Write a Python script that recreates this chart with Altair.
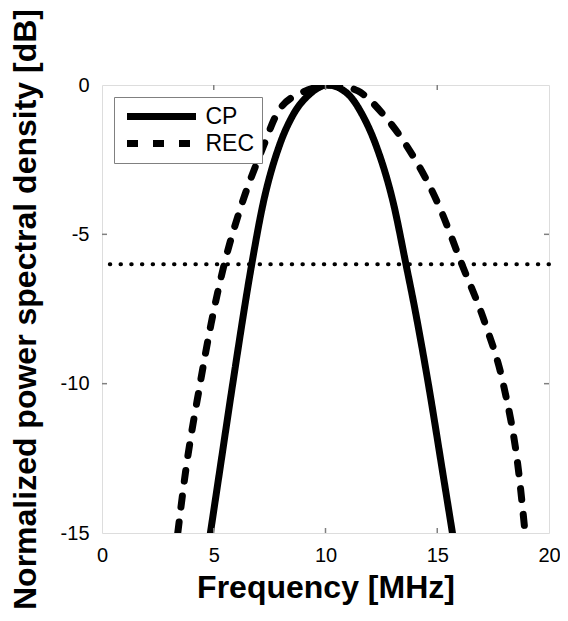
import altair as alt
import pandas as pd

# ---- data ----
cp_f = [4.85, 5.25, 5.85, 6.7, 7.2, 7.95, 8.55, 9.3, 10.1, 11.0, 11.65, 12.25, 13.05, 13.6, 14.0, 14.6, 15.25, 15.68]
cp_db = [-15, -13, -10, -6, -4, -2, -1, -0.3, 0, -0.3, -1, -2, -4, -6, -7.5, -10, -13, -15]

rec_f = [3.39, 3.73, 4.39, 4.88, 5.47, 6.25, 7.25, 7.8, 8.8, 10.4, 11.45, 12.6, 13.6, 15.05, 16.1, 17.15, 17.95, 18.65, 18.93]
rec_db = [-15, -13, -10, -8, -6, -4, -2, -1, -0.3, 0, -0.2, -1, -2, -4, -6, -8, -10, -13, -15]

series_names = ["CP", "REC"]
threshold_db = -6
x_ticks = [0, 5, 10, 15, 20]
y_ticks = [0, -5, -10, -15]
x_inner_ticks = [5, 10, 15]
y_inner_ticks = [-5, -10]

FONT = "Liberation Sans"
GRAY = "#808080"
W, H = 447, 448

df = pd.concat([
    pd.DataFrame({"f": cp_f, "dB": cp_db, "series": "CP"}),
    pd.DataFrame({"f": rec_f, "dB": rec_db, "series": "REC"}),
])

xscale = alt.Scale(domain=[0, 20], nice=False, zero=False)
yscale = alt.Scale(domain=[-15, 0], nice=False, zero=False)

x_axis = alt.Axis(values=x_ticks, title="Frequency [MHz]", grid=False, ticks=False,
                  domain=False, tickSize=0, labelPadding=12, labelFlush=False,
                  labelExpr="'' + datum.value", labelFont=FONT,
                  labelFontSize=20, labelColor="black", titleFont=FONT,
                  titleFontSize=32, titleFontWeight="bold", titleColor="black",
                  titleBaseline="alphabetic", titleY=64)
y_axis = alt.Axis(values=y_ticks, title="Normalized power spectral density [dB]",
                  grid=False, ticks=False, domain=False, tickSize=0, labelPadding=13,
                  labelFlush=False, labelExpr="'' + datum.value",
                  labelFont=FONT, labelFontSize=20, labelColor="black", titleFont=FONT,
                  titleFontSize=32, titleFontWeight="bold", titleColor="black",
                  titleBaseline="alphabetic", titleX=-67)

lines = alt.Chart(df).mark_line(
    color="black", strokeWidth=7, interpolate="monotone", clip=True, strokeCap="round"
).encode(
    x=alt.X("f:Q", scale=xscale, axis=x_axis),
    y=alt.Y("dB:Q", scale=yscale, axis=y_axis),
    strokeDash=alt.StrokeDash(
        "series:N",
        scale=alt.Scale(domain=series_names, range=[[1, 0], [11, 15]]),
        legend=alt.Legend(title=None, orient="none", legendX=12, legendY=12,
                          symbolType="stroke", symbolSize=4761, symbolStrokeWidth=7,
                          symbolStrokeColor="black", clipHeight=25, rowPadding=2,
                          labelFont=FONT, labelFontSize=23, labelOffset=6, labelColor="black",
                          padding=7, strokeColor=GRAY, fillColor="white", symbolOffset=2.5),
    ),
)

thr = alt.Chart(pd.DataFrame({"dB": [threshold_db]})).mark_rule(
    color="black", strokeWidth=4, strokeDash=[0.5, 10.2], strokeCap="round"
).encode(y=alt.Y("dB:Q", scale=yscale, axis=y_axis))

xt = pd.DataFrame({"f": x_inner_ticks})
yt = pd.DataFrame({"dB": y_inner_ticks})

tick_b = alt.Chart(xt).mark_rule(color=GRAY, strokeWidth=1.5).encode(
    x=alt.X("f:Q", scale=xscale, axis=x_axis), y=alt.value(H), y2=alt.value(H - 5))
tick_t = alt.Chart(xt).mark_rule(color=GRAY, strokeWidth=1.5).encode(
    x=alt.X("f:Q", scale=xscale, axis=x_axis), y=alt.value(0), y2=alt.value(5))
tick_l = alt.Chart(yt).mark_rule(color=GRAY, strokeWidth=1.5).encode(
    y=alt.Y("dB:Q", scale=yscale, axis=y_axis), x=alt.value(0), x2=alt.value(5))
tick_r = alt.Chart(yt).mark_rule(color=GRAY, strokeWidth=1.5).encode(
    y=alt.Y("dB:Q", scale=yscale, axis=y_axis), x=alt.value(W), x2=alt.value(W - 5))

chart = alt.layer(thr, lines, tick_b, tick_t, tick_l, tick_r).properties(
    width=W, height=H,
    autosize=alt.AutoSizeParams(type="none"),
    padding={"left": 94, "top": 77, "right": 11, "bottom": 80},
).configure_view(stroke=GRAY, strokeWidth=1.5).configure(background="white")

chart.save("out.html", embed_options={"renderer": "svg", "actions": False})
